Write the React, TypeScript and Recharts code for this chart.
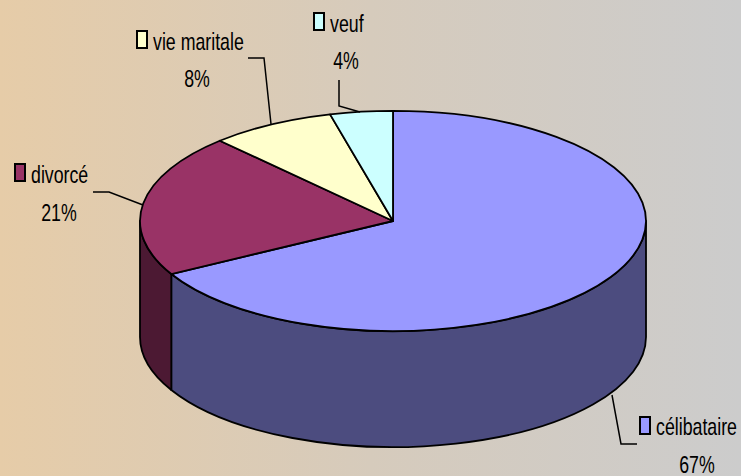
import React from "react";
import { PieChart, Pie } from "recharts";

const categories = ["célibataire", "divorcé", "vie maritale", "veuf"];
const shares = [67, 21, 8, 4];
const topColors = ["#9999FF", "#993366", "#FFFFCC", "#CCFFFF"];
const wallColors = ["#4C4C7F", "#4C1933", "#7F7F66", "#667F7F"];

const WIDTH = 741;
const HEIGHT = 476;
const CX = 393;
const CY = 221;
const RX = 253;
const TILT = 0.435; // vertical squash of the disc
const DEPTH = 116;
const FONT = '"Liberation Sans", Arial, sans-serif';
const NARROW = 0.74; // no narrow face installed, so the glyphs get squeezed

// where each callout sits: swatch corner, name start, percent centre, leader line
const callouts = [
  { sx: 640, sy: 417, nx: 656, ny: 435, px: 697, py: 473, line: "612,395 621,444 637,444" },
  { sx: 15, sy: 164, nx: 31, ny: 183, px: 59, py: 221, line: "93,192 109,192 143,205" },
  { sx: 137, sy: 31, nx: 153, ny: 50, px: 197, py: 87, line: "248,58 264,58 271,124" },
  { sx: 314, sy: 13, nx: 330, ny: 32, px: 346, py: 69, line: "339,80 339,106 360,112" },
];

const rad = (deg: number) => (deg * Math.PI) / 180;
const ex = (deg: number) => CX + RX * Math.cos(rad(deg));
const ey = (deg: number) => CY - RX * TILT * Math.sin(rad(deg));

// top face of a slice, elliptical instead of circular
function TopSlice(props: any) {
  const { startAngle, endAngle, index } = props;
  const ry = RX * TILT;
  const large = Math.abs(startAngle - endAngle) > 180 ? 1 : 0;
  const d = `M${CX},${CY} L${ex(startAngle)},${ey(startAngle)} A${RX},${ry} 0 ${large} 1 ${ex(endAngle)},${ey(endAngle)} Z`;
  return <path d={d} fill={topColors[index]} stroke="#000" strokeWidth={1.8} strokeLinejoin="round" />;
}

// outer wall of a slice, only the part on the front half of the disc
function WallSlice(props: any) {
  const { startAngle, endAngle, index } = props;
  // recharts angles run clockwise from 90 down to -270; the front is -180..0
  const from = Math.min(startAngle, 0);
  const to = Math.max(endAngle, -180);
  if (from <= to) return null;
  const ry = RX * TILT;
  const d =
    `M${ex(from)},${ey(from)} A${RX},${ry} 0 0 1 ${ex(to)},${ey(to)} ` +
    `L${ex(to)},${ey(to) + DEPTH} A${RX},${ry} 0 0 0 ${ex(from)},${ey(from) + DEPTH} Z`;
  return <path d={d} fill={wallColors[index]} stroke="#000" strokeWidth={1.8} strokeLinejoin="round" />;
}

function Callout(props: any) {
  const { index, name, value } = props;
  const c = callouts[index];
  return (
    <g fontFamily={FONT} fontSize={24} fill="#000" stroke="none">
      <polyline points={c.line} fill="none" stroke="#000" strokeWidth={1.5} />
      <rect x={c.sx} y={c.sy} width={10} height={17} fill={topColors[index]} stroke="#000" strokeWidth={2} />
      <text transform={`translate(${c.nx},${c.ny}) scale(${NARROW},1)`}>{name}</text>
      <text transform={`translate(${c.px},${c.py}) scale(${NARROW},1)`} textAnchor="middle">{`${value}%`}</text>
    </g>
  );
}

const rows = categories.map((name, i) => ({ name, value: shares[i] }));

export default function App() {
  return (
    <div
      style={{
        position: "absolute",
        left: 0,
        top: 0,
        width: WIDTH,
        height: HEIGHT,
        background: "linear-gradient(to right, #E6CCA8 0%, #D6CBBC 50%, #CCCCCC 100%)",
      }}
    >
      <PieChart width={WIDTH} height={HEIGHT} margin={{ top: 0, right: 0, bottom: 0, left: 0 }}>
        <Pie
          data={rows}
          dataKey="value"
          nameKey="name"
          cx={CX}
          cy={CY}
          outerRadius={RX}
          startAngle={90}
          endAngle={-270}
          paddingAngle={0}
          isAnimationActive={false}
          shape={WallSlice}
          label={false}
          labelLine={false}
        />
        <Pie
          data={rows}
          dataKey="value"
          nameKey="name"
          cx={CX}
          cy={CY}
          outerRadius={RX}
          startAngle={90}
          endAngle={-270}
          paddingAngle={0}
          isAnimationActive={false}
          shape={TopSlice}
          label={Callout}
          labelLine={false}
        />
      </PieChart>
    </div>
  );
}
